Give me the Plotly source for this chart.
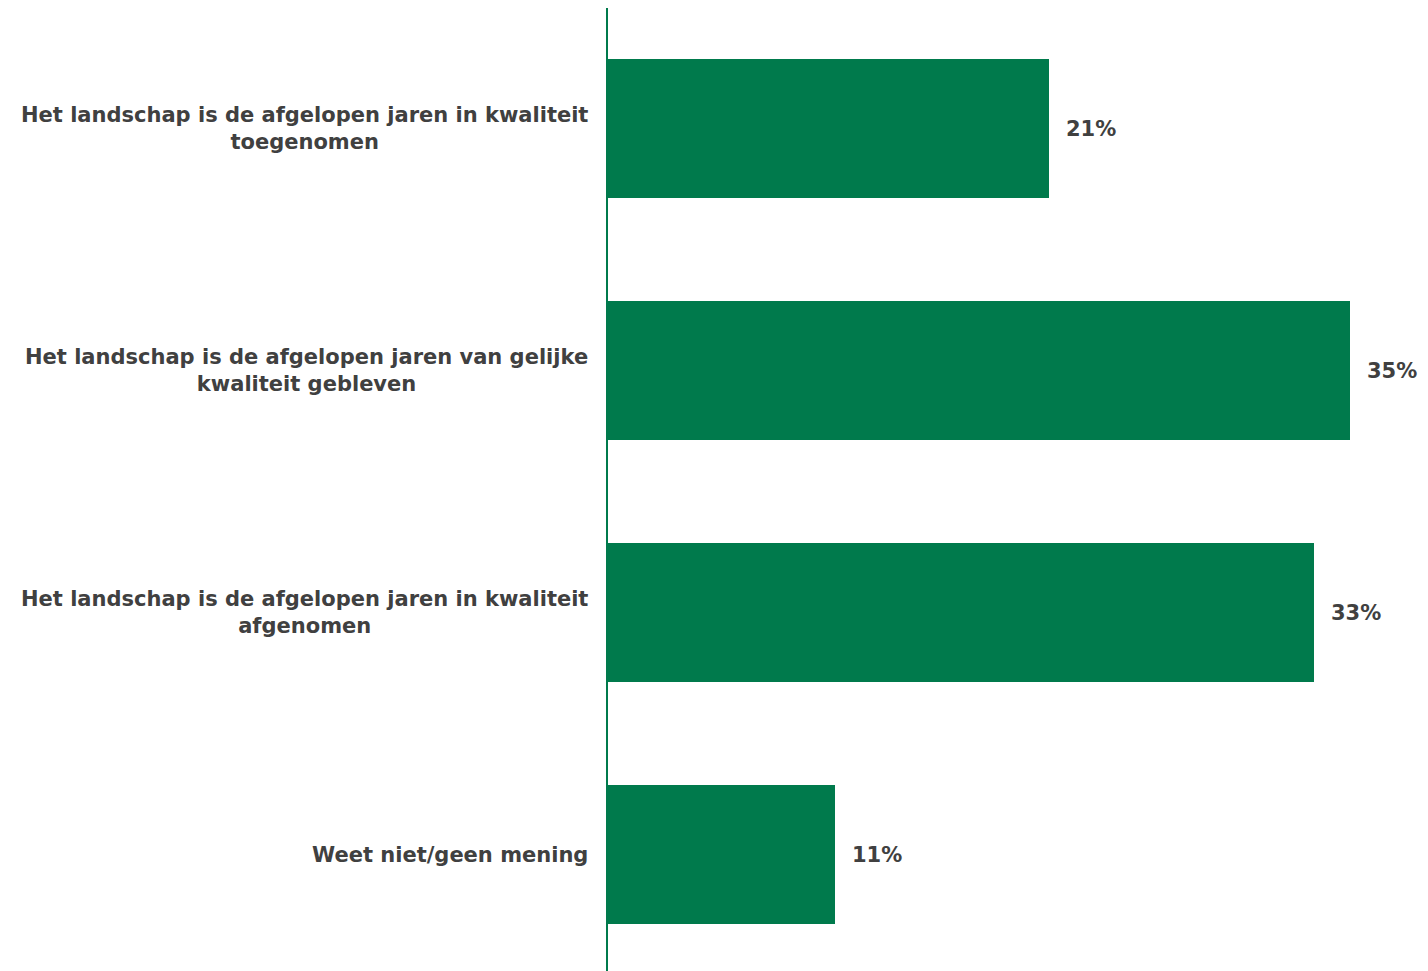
import plotly.graph_objects as go

categories = [
    "Het landschap is de afgelopen jaren in kwaliteit<br>toegenomen",
    "Het landschap is de afgelopen jaren van gelijke<br>kwaliteit gebleven",
    "Het landschap is de afgelopen jaren in kwaliteit<br>afgenomen",
    "Weet niet/geen mening",
]
values = [20.8, 35.0, 33.3, 10.7]
labels = ["21%", "35%", "33%", "11%"]

GREEN = "#007A4C"
TXT = "#404040"
FONT = "DejaVu Sans"

pos = list(range(len(categories)))

fig = go.Figure()
fig.add_trace(go.Bar(
    x=values, y=pos, orientation="h",
    marker=dict(color=GREEN, line=dict(width=0)),
    width=0.574, hoverinfo="skip",
))

annotations = []
for i, (v, t) in enumerate(zip(values, labels)):
    annotations.append(dict(
        x=v, y=i, xref="x", yref="y", text="<b>%s</b>" % t,
        showarrow=False, xanchor="left", yanchor="middle", xshift=15,
        font=dict(family=FONT, size=21, color=TXT),
    ))
for i, c in enumerate(categories):
    annotations.append(dict(
        x=0, y=i, xref="paper", yref="y", text="<b>%s</b>" % c,
        showarrow=False, xanchor="right", yanchor="middle", xshift=-18,
        align="center",
        font=dict(family=FONT, size=21, color=TXT),
    ))

fig.update_layout(
    width=1420, height=963,
    margin=dict(l=600, r=0, t=0, b=0),
    paper_bgcolor="white", plot_bgcolor="white",
    showlegend=False,
    bargap=0,
    xaxis=dict(range=[0, 38.7], showgrid=False, zeroline=False,
               showticklabels=False, showline=False, fixedrange=True),
    yaxis=dict(range=[3.481, -0.498], showgrid=False, zeroline=False,
               showticklabels=False, showline=True, linecolor=GREEN,
               linewidth=2, ticks="", fixedrange=True),
    annotations=annotations,
)

fig.write_html("out.html", config={"displayModeBar": False})
